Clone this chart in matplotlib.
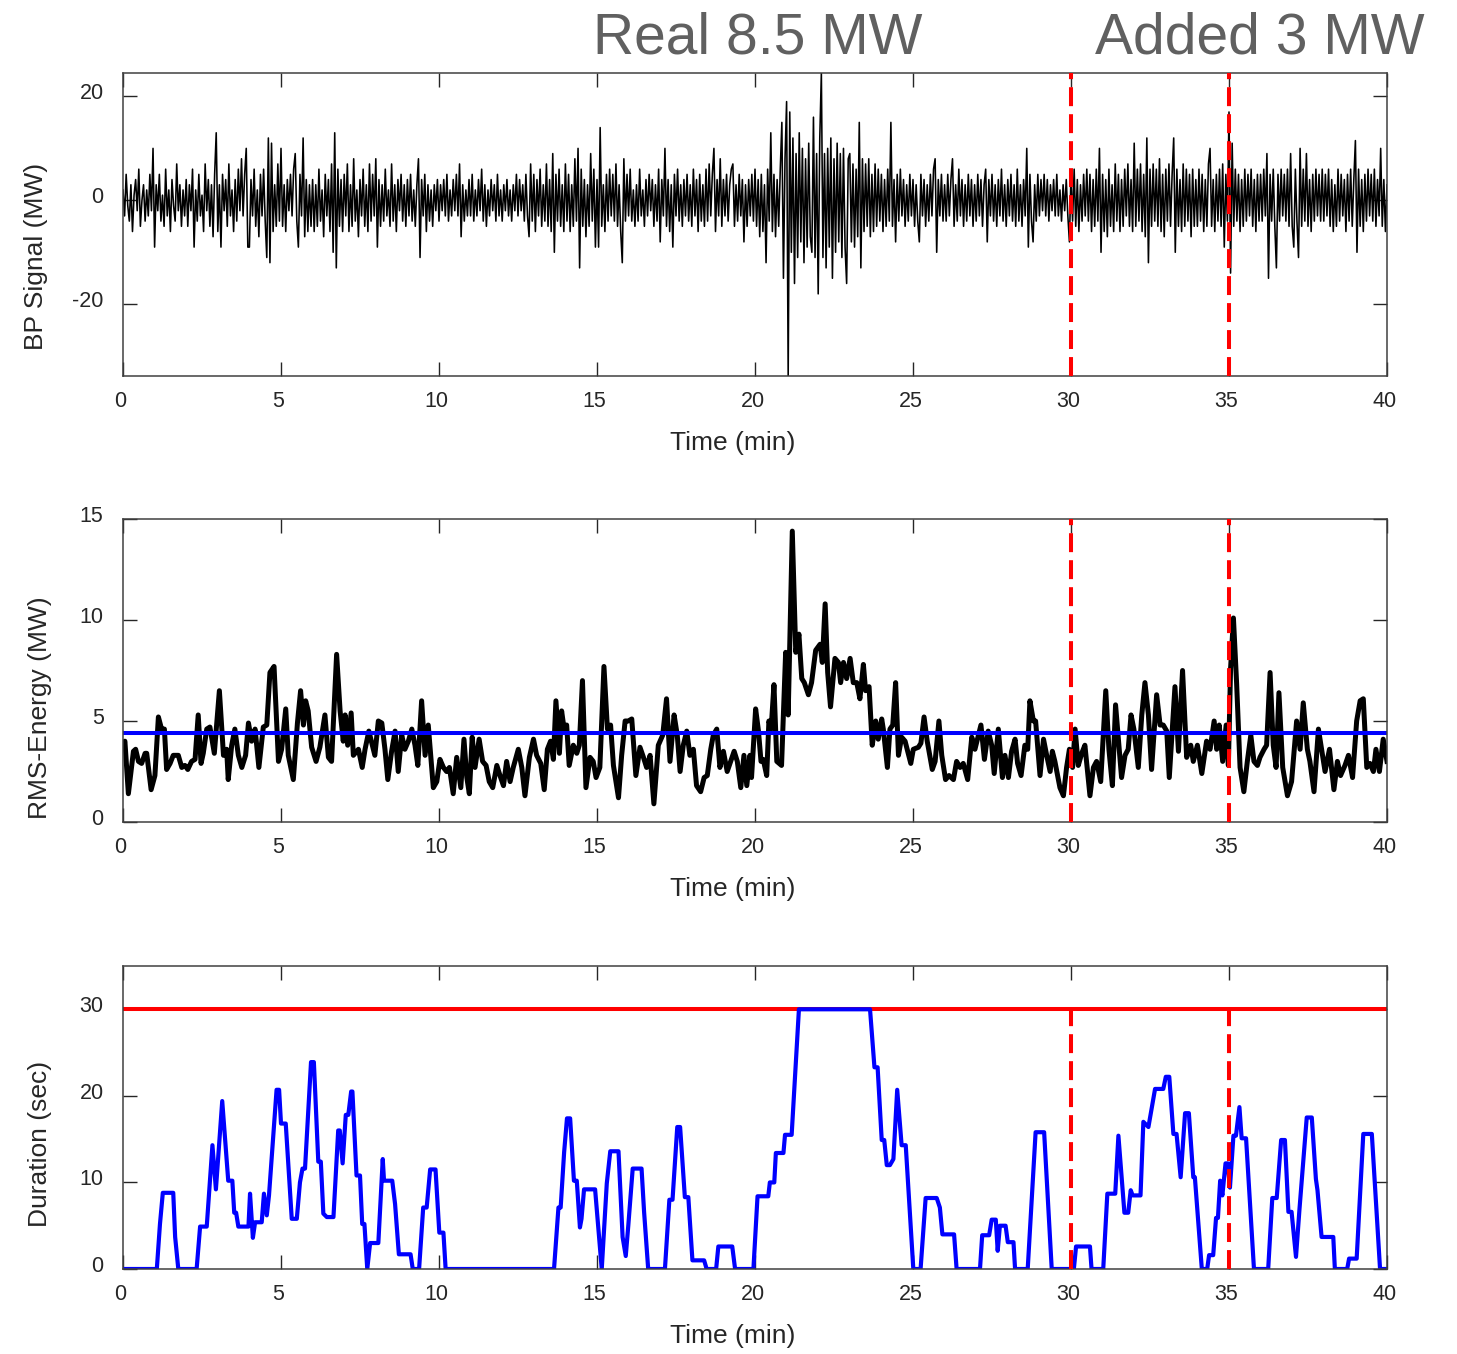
import numpy as np
import matplotlib
matplotlib.use('Agg')
import matplotlib.pyplot as plt
from matplotlib.transforms import ScaledTranslation

plt.rcParams['font.family'] = ['Liberation Sans', 'DejaVu Sans']
plt.rcParams['axes.unicode_minus'] = False

# ---------------- data ----------------
# Band-passed signal (MW), 20 samples per minute, one row per minute (read from envelope / spikes)
bp_rows = [
    [2, -3, 5, -1, -4, 3, -6, 1, 4, -2, 6, -5, 0, 3, -4, 2, -3, 5, -2, 10],
    [-9, 3, -2, 5, -4, 1, -5, 6, -3, 2, -6, 4, -1, -4, 7, -2, 3, -5, 2, -3],
    [4, -5, 3, -2, 6, -9, 2, -4, 5, -3, 1, -6, 7, -2, 4, -5, 3, -7, 5, 13],
    [-6, 3, -9, 5, -2, 4, -5, 7, -3, 2, -6, 4, -4, 6, -2, 8, -3, 5, 10, -9],
    [-9, 4, -3, 6, -5, 2, -7, 5, -3, 6, -4, -11, 12, -12, 11, -6, 3, -5, 7, -4],
    [10, -5, 3, -6, 4, -2, 5, -3, 6, 9, -4, -9, 5, -3, 12, -7, 4, -6, 3, -5],
    [4, -6, 3, -5, 6, -4, 2, -7, 5, -3, 4, -6, 7, -10, 13, -13, 6, -5, 4, -6],
    [5, -3, 7, -6, 3, -5, 8, -4, 2, -7, 4, -3, 6, -5, 3, -6, 7, -4, 5, -3],
    [8, -9, 4, -5, 3, -4, 6, -3, 2, -5, 7, -4, 3, -6, 4, -2, 5, -4, 3, -5],
    [4, -3, 5, -4, 2, -5, 3, 8, -11, 4, -3, 5, -6, 3, -4, 2, -5, 3, -2, 4],
    [-4, 3, -2, 4, -3, 5, -4, 2, -3, 4, -2, 5, -3, 7, -7, 3, -4, 2, -3, 4],
    [-3, 5, -4, 2, -3, 4, -2, 6, -4, 3, -5, 2, -3, 4, -2, 3, -4, 5, -3, 2],
    [-4, 3, -2, 4, -3, 2, -4, 3, -2, 5, -3, 4, -2, 3, -4, 5, -3, -7, 7, -4],
    [5, -6, 4, -3, 6, -5, 3, -4, 7, -5, 4, -6, 9, -10, 5, -4, 6, -5, 3, -6],
    [7, -4, 5, -6, 3, -5, 8, -4, 10, -13, 6, -5, 4, -7, 3, -5, 9, -4, 6, -9],
    [4, -9, 14, -5, 3, -6, 5, -4, 6, -3, 5, -4, 7, -5, 3, -6, -12, 8, -4, 5],
    [-3, 6, -4, 2, -5, 3, -4, 6, -3, 2, -5, 4, -3, 5, -2, 4, -5, 3, -4, 6],
    [-8, 4, -3, 10, -5, 4, -6, 3, -9, 5, -3, 6, -4, 3, -5, 4, -3, 5, -4, 3],
    [-5, 6, -3, 4, -6, 5, -4, 3, -5, 6, -4, 7, -3, 5, 10, -6, 4, -3, 8, -5],
    [4, -3, 5, -4, 3, 6, 7, -5, 3, -4, 5, -3, 4, -8, 3, -5, 4, -3, 5, -4],
    [6, -5, 4, -7, 5, -6, 3, -12, 6, -4, 13, -6, 5, -7, 4, -5, 6, 15, -15, 8],
    [19, -33.8, 17, -10, 12, -16, 9, -11, 13, -8, 10, -12, 8, -9, 11, -7, -10, 16, -11, 9],
    [-18, 12, 24.5, -11, 9, -13, 10, -9, 12, -15, 8, -10, 11, -8, 9, -11, 10, -9, -16, 8],
    [9, -8, 7, -9, 6, -7, 15, -13, 8, -6, 7, -5, 8, -7, 5, -6, 7, -5, 6, -4],
    [5, -6, 4, -5, 6, -4, 15, -5, 4, -8, 5, -4, 6, -3, 4, -5, 3, -4, 5, -3],
    [4, -5, 3, -4, -8, 5, -3, 4, -5, 3, -4, 5, -3, 6, 8, -10, 4, -3, 5, -4],
    [3, -4, 5, -3, 4, 8, -5, 3, -4, 6, -3, 4, -5, 3, -4, 5, -3, 4, -5, 3],
    [-4, 5, -3, 4, -5, 3, 6, -8, 4, -3, 5, -4, 3, -5, 4, -3, 6, -4, 3, -5],
    [4, -3, 5, -4, 3, -5, 6, -4, 3, -5, 4, -3, 10, -9, 5, -4, -8, 3, -4, 5],
    [-3, 4, -2, 5, -3, 4, -4, 3, -2, 4, -3, 5, -3, 2, -4, 3, -2, 4, -3, -8],
    [5, -4, 6, -5, 4, -6, 3, -4, 5, -3, 6, -4, 5, -6, 4, -5, 6, -4, 10, -10],
    [5, -6, 4, -7, 6, -5, 3, -6, 7, -4, 5, -6, 4, -5, 6, -3, 7, -5, 4, -6],
    [11, -5, 6, -4, 7, -6, 5, -7, 12, -12, 6, -5, 7, -4, 6, -5, 8, -6, 5, -7],
    [6, -4, 7, -5, 5, 12, -10, 6, -5, 4, -6, 7, -5, 6, -4, 5, -7, 6, -5, 4],
    [-5, 6, -4, 5, -6, 4, -5, 7, 10, -5, 4, -6, 5, -4, 6, -5, 7, -9, 5, -4],
    [17, -14, 11, -5, 6, -4, 5, -6, 4, -5, 6, -4, 5, -3, 6, -5, 4, -6, 5, -4],
    [5, -4, 6, -3, 9, -15, 5, -4, 6, -5, -13, 5, -4, 6, -3, 5, -4, 6, -5, 9],
    [-5, -9, 6, -4, -11, 10, -5, 6, -4, 9, -5, 4, -6, 5, -4, 6, -3, 5, -4, 6],
    [-4, 5, -3, 6, -5, 4, -6, 3, -5, 6, -4, 5, -3, 4, -6, 5, -4, 6, -5, 4],
    [11.5, -10, 6, -5, 4, -6, 5, -4, 6, -3, 5, -4, 6, -5, 4, -3, 10, -5, 4, -6],
]
bp_last = [3]

# RMS energy (MW): vertex times (min) and values
rms_t = [0.00, 0.06, 0.17, 0.33, 0.40, 0.49, 0.59, 0.70, 0.75, 0.89, 1.01, 1.12, 1.22, 1.31, 1.38, 1.49, 1.59, 1.75, 1.86, 1.96,
         2.05, 2.17, 2.28, 2.38, 2.47, 2.54, 2.65, 2.75, 2.89, 3.05, 3.18, 3.28, 3.33, 3.44, 3.54, 3.65, 3.76, 3.88, 3.97, 4.07,
         4.18, 4.30, 4.44, 4.55, 4.65, 4.78, 4.92, 5.02, 5.15, 5.23, 5.39, 5.52, 5.62, 5.71, 5.78, 5.86, 5.97, 6.11, 6.23, 6.39,
         6.50, 6.60, 6.76, 6.87, 6.97, 7.03, 7.11, 7.22, 7.29, 7.45, 7.57, 7.66, 7.78, 7.92, 7.97, 8.08, 8.19, 8.29, 8.38, 8.50,
         8.61, 8.71, 8.82, 8.92, 9.03, 9.14, 9.24, 9.33, 9.45, 9.56, 9.66,
         9.82, 9.93, 10.03, 10.14, 10.24, 10.33, 10.45, 10.56, 10.69, 10.79, 10.88, 10.96, 11.05, 11.14, 11.27, 11.38, 11.49,
         11.59, 11.70, 11.83, 11.93, 12.04, 12.14, 12.25, 12.35, 12.51, 12.62, 12.72, 12.86, 12.99, 13.09, 13.22, 13.33, 13.43,
         13.53, 13.62, 13.70, 13.81, 13.88, 13.96, 14.04, 14.12, 14.25, 14.36, 14.44, 14.54, 14.65, 14.78, 14.88, 14.97, 15.09,
         15.22, 15.33, 15.43, 15.52, 15.68, 15.78, 15.89, 15.99, 16.10, 16.23, 16.36, 16.47, 16.57, 16.68, 16.80, 16.94, 17.08,
         17.20, 17.31, 17.44, 17.54, 17.63, 17.73, 17.84, 17.94, 18.05, 18.15, 18.28, 18.39, 18.49, 18.60, 18.68, 18.79, 18.89,
         19.00, 19.12, 19.23, 19.34, 19.44, 19.55, 19.65,
         19.74, 19.84, 19.89, 20.02, 20.11, 20.19, 20.26, 20.37, 20.44, 20.51, 20.60, 20.69, 20.84, 20.97, 21.05, 21.18, 21.29,
         21.39, 21.48, 21.56, 21.69, 21.79, 21.92, 22.06, 22.13, 22.22, 22.30, 22.39, 22.53, 22.64, 22.71, 22.80, 22.90, 23.01,
         23.11, 23.22, 23.32, 23.43, 23.50, 23.61, 23.71, 23.82, 23.90, 24.01, 24.06, 24.19, 24.27, 24.36, 24.45, 24.54, 24.64,
         24.75, 24.93, 25.01, 25.17, 25.25, 25.35, 25.45, 25.61, 25.70, 25.82, 25.91, 26.03, 26.14, 26.28, 26.38, 26.49, 26.59,
         26.73, 26.86, 26.96, 27.07, 27.15, 27.26, 27.38, 27.49, 27.57, 27.70, 27.83, 27.91, 28.02, 28.12, 28.23, 28.31, 28.42,
         28.54, 28.63, 28.70, 28.81, 28.88, 29.02, 29.13, 29.23, 29.34, 29.41, 29.49,
         29.65, 29.76, 29.86, 29.95, 30.05, 30.13, 30.23, 30.34, 30.44, 30.60, 30.71, 30.81, 30.94, 31.10, 31.20, 31.31, 31.41,
         31.60, 31.71, 31.81, 31.90, 31.99, 32.13, 32.24, 32.34, 32.45, 32.55, 32.71, 32.82, 32.92, 33.03, 33.11, 33.29, 33.40,
         33.53, 33.66, 33.79, 33.87, 34.00, 34.14, 34.29, 34.40, 34.53, 34.61, 34.69, 34.80, 34.91, 34.98, 35.05, 35.14, 35.24,
         35.35, 35.47, 35.58, 35.69, 35.79, 35.90, 35.98, 36.11, 36.19, 36.30, 36.40, 36.49, 36.58, 36.70, 36.85, 36.98, 37.14,
         37.25, 37.35, 37.48, 37.56, 37.69, 37.83, 37.93, 38.04, 38.18, 38.32, 38.43, 38.53, 38.67, 38.78, 38.91, 39.04, 39.15,
         39.25, 39.36, 39.46, 39.57, 39.65, 39.76, 39.88, 40.00]
rms_v = [3.8, 4.0, 1.4, 3.5, 3.6, 3.0, 2.9, 3.4, 3.4, 1.6, 2.3, 5.2, 4.6, 4.6, 2.6, 2.9, 3.3, 3.3, 2.7, 2.8,
         2.6, 3.0, 3.1, 5.3, 2.9, 3.4, 4.6, 4.7, 3.4, 6.5, 3.3, 3.6, 2.1, 3.8, 4.6, 3.3, 2.7, 3.3, 4.9, 4.0,
         4.6, 2.7, 4.7, 4.8, 7.4, 7.7, 3.0, 3.6, 5.6, 3.3, 2.1, 4.9, 6.5, 4.8, 6.0, 5.5, 3.7, 3.0, 3.7, 5.3,
         3.2, 3.0, 8.3, 5.5, 4.0, 5.3, 3.8, 5.4, 3.3, 3.6, 2.7, 3.6, 4.5, 3.6, 3.3, 5.0, 4.9, 3.6, 2.1, 3.5,
         4.5, 2.5, 4.3, 3.6, 4.0, 4.6, 3.8, 2.8, 6.0, 3.3, 4.8,
         1.7, 2.0, 3.1, 2.7, 2.5, 2.7, 1.4, 3.2, 1.7, 4.1, 2.2, 1.4, 4.2, 2.7, 4.1, 3.0, 2.8,
         2.0, 1.7, 2.8, 2.3, 1.8, 3.0, 2.0, 2.7, 3.6, 2.7, 1.3, 3.2, 4.1, 3.3, 2.9, 1.6, 3.6,
         4.0, 3.1, 6.0, 3.4, 5.5, 4.6, 4.8, 2.8, 3.8, 3.4, 3.8, 7.0, 1.7, 3.2, 3.0, 2.2, 2.7,
         7.7, 4.6, 4.8, 2.8, 1.2, 3.3, 5.0, 5.0, 5.1, 2.3, 3.7, 3.2, 2.7, 3.3, 0.9, 3.8, 4.3,
         6.1, 3.0, 5.3, 4.3, 2.5, 3.8, 4.5, 3.3, 3.6, 1.8, 1.5, 2.2, 2.3, 3.6, 4.3, 4.6, 2.7,
         3.5, 2.5, 3.0, 3.5, 3.0, 1.7, 3.3,
         1.8, 3.3, 2.2, 5.6, 4.5, 3.0, 3.1, 2.3, 5.0, 4.6, 6.8, 3.0, 2.8, 8.4, 5.3, 14.4, 8.4,
         9.3, 7.1, 6.9, 6.3, 6.9, 8.5, 8.8, 7.9, 10.8, 7.4, 5.7, 8.1, 7.9, 6.9, 7.9, 7.1, 8.1,
         6.9, 6.9, 6.1, 7.8, 6.5, 6.7, 3.8, 5.0, 4.1, 5.1, 4.6, 2.7, 4.6, 4.8, 6.9, 3.3, 4.2,
         4.0, 2.9, 3.6, 3.7, 3.9, 5.2, 4.0, 2.6, 3.0, 5.0, 3.3, 2.1, 2.3, 2.1, 3.0, 2.7, 2.9,
         2.1, 4.2, 3.6, 4.3, 4.8, 3.1, 4.5, 3.8, 2.4, 4.6, 2.2, 3.3, 2.2, 3.5, 4.1, 2.9, 2.3,
         3.8, 3.6, 6.0, 5.0, 5.0, 2.3, 4.1, 3.3, 2.5, 3.5, 3.0,
         1.7, 1.3, 2.7, 3.6, 2.7, 4.6, 2.8, 3.4, 3.8, 1.3, 2.7, 3.0, 2.0, 6.5, 3.6, 1.8, 5.8,
         2.2, 3.3, 3.6, 5.3, 4.6, 2.7, 5.3, 6.9, 5.3, 2.6, 6.3, 4.8, 4.8, 4.5, 2.2, 6.7, 3.5,
         7.5, 3.2, 3.8, 3.0, 3.8, 2.4, 4.0, 3.6, 5.0, 3.6, 4.8, 3.0, 4.8, 2.8, 7.6, 10.1, 6.9,
         2.7, 1.5, 3.0, 4.3, 3.0, 2.8, 3.2, 3.6, 3.8, 7.4, 3.8, 2.7, 6.4, 2.7, 1.3, 2.0, 5.0,
         3.6, 5.9, 3.6, 3.0, 1.5, 4.6, 3.6, 2.5, 3.6, 1.6, 3.0, 2.3, 2.8, 3.3, 2.2, 5.0, 6.0,
         6.1, 2.7, 2.9, 2.5, 3.6, 2.5, 4.1, 3.0]
rms_threshold = 4.4

# Duration above threshold (sec)
dur_t = [0, 1.07, 1.17, 1.26, 1.59, 1.65, 1.75, 2.33, 2.44, 2.65, 2.83, 2.94, 3.14, 3.33, 3.46, 3.52, 3.58, 3.65, 3.97,
         4.02, 4.11, 4.18, 4.39, 4.46, 4.55, 4.62, 4.86, 4.94, 5.00, 5.15, 5.34, 5.50, 5.60, 5.68, 5.76, 5.95, 6.04, 6.18,
         6.26, 6.34, 6.45, 6.66, 6.81, 6.86, 6.95, 7.05, 7.13, 7.22, 7.26, 7.39, 7.50, 7.57, 7.64, 7.73, 7.82, 8.08, 8.22,
         8.26, 8.52, 8.61, 8.73, 9.10, 9.17, 9.37, 9.50, 9.61, 9.72, 9.89, 10.01, 10.14, 10.21, 13.64, 13.78, 13.85, 13.96,
         14.05, 14.15, 14.27, 14.36, 14.46, 14.51, 14.59, 14.94, 15.15, 15.31, 15.42, 15.68, 15.81, 15.91, 15.99, 16.13,
         16.41, 16.49, 16.62, 17.15, 17.29, 17.39, 17.54, 17.63, 17.78, 17.89, 18.02, 18.39, 18.47, 18.77, 18.84, 19.28,
         19.37, 19.95, 20.08, 20.42, 20.47, 20.61, 20.66, 20.90, 20.95, 21.16, 21.39, 23.64, 23.78, 23.88, 24.01, 24.09,
         24.17, 24.27, 24.38, 24.50, 24.64, 24.77, 25.01, 25.24, 25.40, 25.75, 25.85, 25.93, 26.30, 26.38, 27.12, 27.19,
         27.41, 27.49, 27.62, 27.68, 27.75, 27.93, 28.00, 28.18, 28.23, 28.63, 28.88, 29.15, 29.39, 30.09, 30.16, 30.60,
         30.65, 31.02, 31.15, 31.40, 31.50, 31.69, 31.81, 31.89, 31.95, 32.20, 32.29, 32.45, 32.66, 32.92, 33.00, 33.11,
         33.24, 33.34, 33.47, 33.61, 33.73, 33.87, 33.92, 34.14, 34.31, 34.37, 34.50, 34.59, 34.65, 34.72, 34.79, 34.89,
         34.96, 35.03, 35.14, 35.22, 35.33, 35.40, 35.54, 35.79, 36.24, 36.37, 36.51, 36.65, 36.77, 36.88, 36.98, 37.12,
         37.23, 37.46, 37.62, 37.75, 37.80, 37.93, 38.30, 38.35, 38.74, 38.80, 39.04, 39.25, 39.52, 39.78, 40.0]
dur_v = [0, 0, 5.2, 8.8, 8.8, 3.7, 0, 0, 4.9, 4.9, 14.3, 9.2, 19.4, 10.2, 10.2, 6.5, 6.5, 4.9, 4.9,
         8.7, 3.6, 5.4, 5.4, 8.7, 6.2, 8.5, 20.7, 20.7, 16.8, 16.8, 5.8, 5.8, 10.0, 11.6, 11.6, 23.9, 23.9, 12.4,
         12.4, 6.4, 6.0, 6.0, 16.0, 16.0, 12.2, 17.8, 17.8, 20.5, 20.5, 10.8, 10.8, 5.2, 5.2, 0, 3.0, 3.0, 12.7,
         10.2, 10.2, 7.5, 1.7, 1.7, 0, 0, 7.1, 7.1, 11.5, 11.5, 4.2, 4.2, 0, 0, 7.1, 7.1, 13.5,
         17.4, 17.4, 10.2, 10.2, 4.8, 5.8, 9.2, 9.2, 0, 9.9, 13.6, 13.6, 3.7, 1.5, 5.0, 11.6,
         11.6, 6.6, 0, 0, 8.0, 8.0, 16.4, 16.4, 8.3, 8.3, 1.0, 1.0, 0, 0, 2.6, 2.6,
         0, 0, 8.4, 8.4, 10.0, 10.0, 13.4, 13.4, 15.5, 15.5, 30, 30, 23.3, 23.3, 14.9, 14.9,
         12.0, 12.0, 12.7, 20.7, 14.3, 14.3, 0, 0, 8.2, 8.2, 7.1, 4.0, 4.0, 0, 0, 3.9,
         3.9, 5.7, 5.7, 2.1, 5.0, 5.0, 3.1, 3.1, 0, 0, 15.8, 15.8, 0, 0, 2.6, 2.6,
         0, 0, 8.7, 8.7, 15.4, 6.5, 6.5, 9.1, 8.5, 8.5, 17.0, 16.4, 20.8, 20.8, 22.2, 22.2,
         15.6, 15.6, 10.6, 18.0, 18.0, 10.6, 10.6, 0, 0, 1.6, 1.6, 5.9, 5.9, 10.2, 8.5, 12.2,
         12.2, 9.4, 15.4, 15.4, 18.7, 15.1, 15.1, 0, 0, 8.2, 8.2, 14.9, 14.9, 6.6, 6.6, 1.4,
         6.9, 17.5, 17.5, 10.4, 9.1, 3.7, 3.7, 0, 0, 1.2, 1.2, 15.6, 15.6, 0, 0]
dur_limit = 30

event_times = [30, 35]
titles = ['Real 8.5 MW', 'Added 3 MW']

# ---------------- figure ----------------
bp_signal = np.concatenate([np.array(r, dtype=float) for r in bp_rows] + [np.array(bp_last, dtype=float)])
bp_time = np.linspace(0, 40, len(bp_signal))

W, H = 1457, 1354
fig = plt.figure(figsize=(W / 100, H / 100), dpi=100)

left = 123 / W
width = (1387 - 123) / W
ax_h = 303 / H
ax1 = fig.add_axes([left, 1 - 376 / H, width, ax_h])
ax2 = fig.add_axes([left, 1 - 822 / H, width, ax_h])
ax3 = fig.add_axes([left, 1 - 1269 / H, width, ax_h])

txt = '#262626'


def style(ax, yticks, ylim, ylabel, ylab_xy):
    ax.set_xlim(0, 40)
    ax.set_ylim(*ylim)
    ax.set_xticks(range(0, 41, 5))
    ax.set_yticks(yticks)
    ax.tick_params(direction='in', length=10, width=1, colors=txt, labelsize=15.5,
                   top=True, right=True)
    ax.tick_params(axis='x', pad=11)
    ax.tick_params(axis='y', pad=14)
    for sp in ax.spines.values():
        sp.set_color('#404040')
        sp.set_linewidth(1.1)
    ax.set_xlabel('Time (min)', fontsize=19, color=txt, va='top')
    ax.xaxis.set_label_coords(0.4826, -0.18)
    ax.set_ylabel(ylabel, fontsize=19, color=txt, va='center')
    ax.yaxis.set_label_coords(*ylab_xy)
    # MATLAB-like tick label offsets
    up = ScaledTranslation(0, 5 / 100, fig.dpi_scale_trans)
    lft = ScaledTranslation(-2.5 / 100, 0, fig.dpi_scale_trans)
    for tk in ax.yaxis.get_major_ticks():
        tk.label1.set_transform(tk.label1.get_transform() + up)
    for tk in ax.xaxis.get_major_ticks():
        tk.label1.set_transform(tk.label1.get_transform() + lft)


red_dash = dict(color=(1, 0, 0), lw=2.9, dashes=(4.7, 2.0), zorder=5)

# panel 1
ax1.plot(bp_time, bp_signal, color='black', lw=1.15)
style(ax1, [-20, 0, 20], (-33.8, 24.5), 'BP Signal (MW)', (-0.0688, 0.396))
for et in event_times:
    ax1.plot([et, et], [-33.8, 24.5], **red_dash)

# panel 2
ax2.plot(rms_t, rms_v, color='black', lw=3.6, solid_joinstyle='round')
ax2.plot([0, 40], [rms_threshold, rms_threshold], color=(0, 0, 1), lw=2.9)
style(ax2, [0, 5, 10, 15], (0, 15), 'RMS-Energy (MW)', (-0.0657, 0.376))
for et in event_times:
    ax2.plot([et, et], [0, 15], **red_dash)

# panel 3
ax3.plot([0, 40], [dur_limit, dur_limit], color=(1, 0, 0), lw=2.9)
ax3.plot(dur_t, dur_v, color=(0, 0, 1), lw=3.0)
style(ax3, [0, 10, 20, 30], (0, 35), 'Duration (sec)', (-0.0657, 0.4125))
for et in event_times:
    ax3.plot([et, et], [0, dur_limit], **red_dash)

# titles over the event markers
fig.text(758 / W, 1 - 53 / H, titles[0], ha='center', va='baseline', fontsize=41, color='#606060')
fig.text(1260 / W, 1 - 53 / H, titles[1], ha='center', va='baseline', fontsize=41, color='#606060')

fig.savefig('out.png', dpi=100)
